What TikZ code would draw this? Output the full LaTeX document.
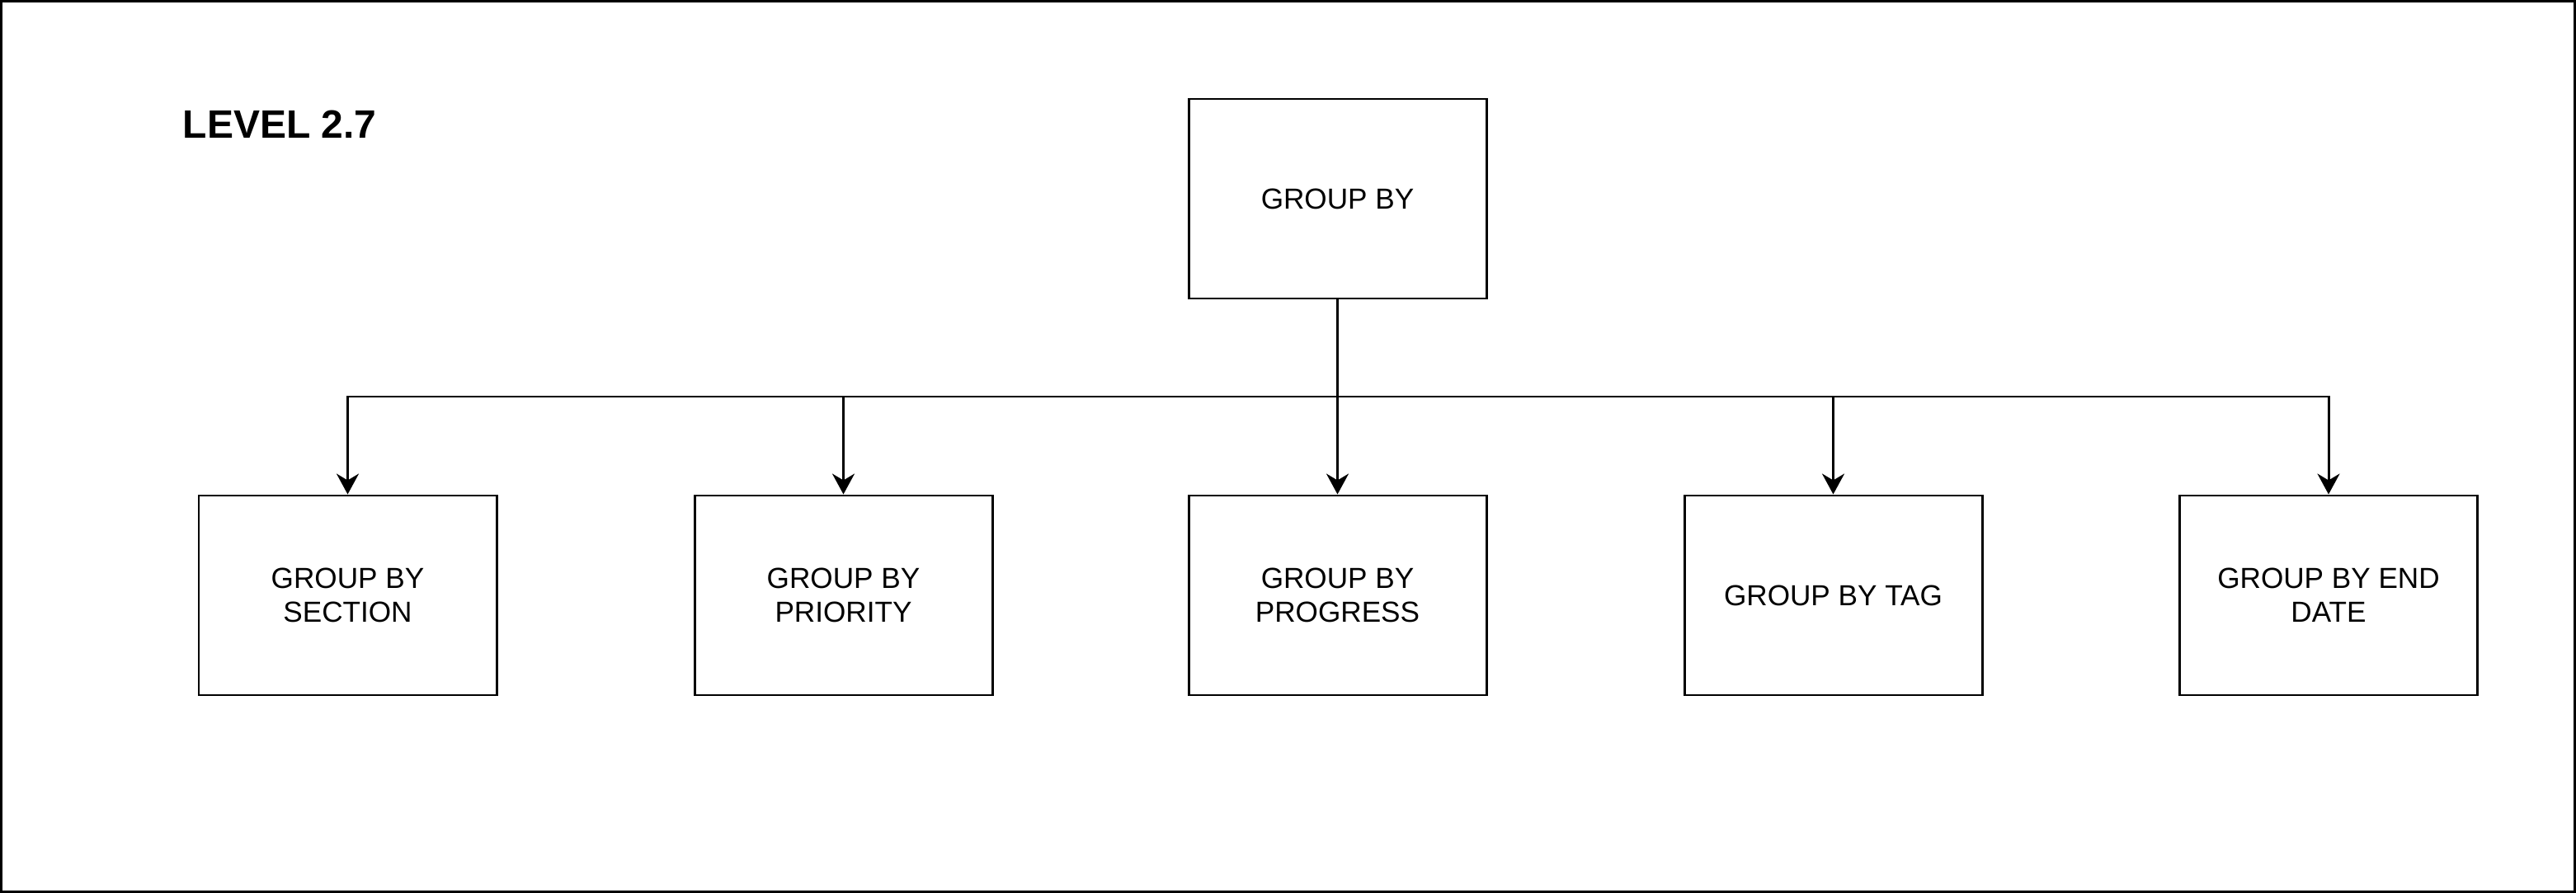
\documentclass[tikz,border=0pt]{standalone}
\usepackage{fontspec}
\setmainfont{Liberation Sans}
\usetikzlibrary{arrows.meta,positioning}

\begin{document}
\begin{tikzpicture}[
  x=1cm,y=1cm,
  box/.style={draw, line width=0.85pt, align=center, minimum width=3.61cm, minimum height=2.42cm, inner sep=2pt, font=\fontsize{10}{11.6}\selectfont},
  arr/.style={-{Stealth[length=2.5mm,width=2.7mm,inset=0.8mm]}, line width=0.85pt},
  bus/.style={line width=0.85pt}
]
\useasboundingbox (0,0) rectangle (31.23,-10.83);
\draw[line width=0.85pt] (0.015,-0.015) rectangle (31.215,-10.815);
\node[anchor=base west, font=\fontsize{13.65}{16}\selectfont\bfseries, inner sep=0pt] (title) at (2.21,-1.68) {LEVEL 2.7};
\node[box] (groupby) at (16.215,-2.41) {GROUP BY};
\node[box] (bysection) at (4.215,-7.22) {GROUP BY\\SECTION};
\node[box] (bypriority) at (10.225,-7.22) {GROUP BY\\PRIORITY};
\node[box] (byprogress) at (16.215,-7.22) {GROUP BY\\PROGRESS};
\node[box] (bytag) at (22.225,-7.22) {GROUP BY TAG};
\node[box] (byenddate) at (28.23,-7.22) {GROUP BY END\\DATE};
\coordinate (split) at (16.215,-4.81);
\draw[bus] (groupby.south) -- (split);
\draw[arr] (split) -| (bysection.north); \draw[arr] (split) -| (bypriority.north); \draw[arr] (split) -- (byprogress.north);
\draw[arr] (split) -| (bytag.north); \draw[arr] (split) -| (byenddate.north);
\end{tikzpicture}
\end{document}
